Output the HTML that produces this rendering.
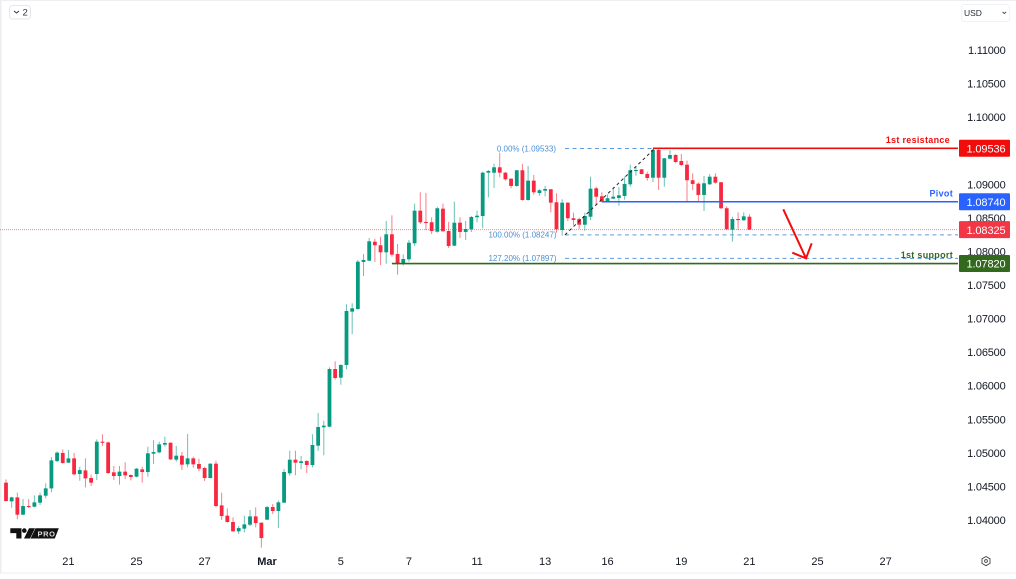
<!DOCTYPE html>
<html>
<head>
<meta charset="utf-8">
<title>EUR/USD chart</title>
<style>
html,body{margin:0;padding:0;background:#fff;width:1016px;height:579px;overflow:hidden}
svg{display:block;font-family:"Liberation Sans",Arial,sans-serif;filter:blur(0.3px)}
</style>
</head>
<body>
<svg id="chart" width="1016" height="579" viewBox="0 0 1016 579" xmlns="http://www.w3.org/2000/svg">
  <rect x="0" y="0" width="1016" height="579" fill="#ffffff"/>
  <rect x="0" y="0" width="1.5" height="573" fill="#eceef2"/>
  <rect x="0" y="0" width="1016" height="1" fill="#eceef2"/>
  <rect x="0" y="572.5" width="1016" height="1" fill="#eceef2"/>
  <g id="current-line"></g>
  <g id="candles"></g>
  <g id="annotations"></g>
  <g id="x-axis"></g>
  <g id="y-axis"></g>
  <g id="tags"></g>

  <g>
    <rect x="9.5" y="5.5" width="21" height="13.5" rx="3" fill="#fff" stroke="#e4e6ec"/>
    <path d="M14 11l2.5 2 2.5-2" fill="none" stroke="#333" stroke-width="1"/>
    <text x="22.5" y="15.5" font-size="9.5" fill="#333">2</text>
  </g>
  <g>
    <rect x="961.5" y="4.5" width="48" height="17" rx="3" fill="#fff" stroke="#f0f2f5"/>
    <text x="964" y="16" font-size="8.5" fill="#2a2e39">USD</text>
    <path d="M1002.5 12l1.8 1.5 1.8-1.5" fill="none" stroke="#444" stroke-width="0.9"/>
  </g>
  <g>
    <path d="M10.3 528.3h11.2v10.2h-5.2v-5.4h-6z" fill="#111"/>
    <circle cx="24.3" cy="530.6" r="2.3" fill="#111"/>
    <path d="M29 528.3h6l-5 10.2h-6z" fill="#111"/>
    <path d="M35.5 528.3h23.3l-4 10.2h-24.3z" fill="#111"/>
    <text x="37.5" y="536.6" font-size="7.5" font-weight="bold" fill="#ddd" letter-spacing="0.6">PRO</text>
  </g>
  <g>
    <path d="M986 556.5l4 2.3v4.6l-4 2.3-4-2.3v-4.6z" fill="none" stroke="#444" stroke-width="0.9"/>
    <circle cx="986" cy="561" r="1.4" fill="none" stroke="#444" stroke-width="0.9"/>
  </g>
</svg>
<script>
const opens = [
1.04556,1.04278,1.04337,1.04079,1.04208,1.04198,1.04258,1.04362,1.04471,1.04878,
1.04998,1.04854,1.04918,1.04685,1.04739,1.04625,1.04685,1.05166,1.05156,1.04710,
1.04655,1.04720,1.04670,1.04645,1.04754,1.04715,1.04988,1.05007,1.05122,1.05151,
1.04898,1.04958,1.04829,1.04918,1.04834,1.04774,1.04625,1.04839,1.04218,1.04064,
1.03970,1.03831,1.03871,1.03930,1.04054,1.03960,1.04005,1.04193,1.04134,1.04258,
1.04695,1.04898,1.04849,1.04879,1.04819,1.05107,1.05381,1.05390,1.06249,1.06120,
1.06309,1.07103,1.07143,1.07843,1.07862,1.08145,1.08092,1.07987,1.08255,1.07962,
1.07817,1.07883,1.08121,1.08607,1.08439,1.08434,1.08294,1.08637,1.08304,1.08086,
1.08428,1.08290,1.08330,1.08509,1.08528,1.09173,1.09173,1.09253,1.09173,1.09083,
1.08975,1.09209,1.08766,1.09054,1.08870,1.08905,1.08926,1.08732,1.08319,1.08726,
1.08494,1.08483,1.08398,1.08517,1.08940,1.08821,1.08747,1.08786,1.08796,1.08826,
1.09000,1.09198,1.09223,1.09153,1.09098,1.09511,1.09098,1.09381,1.09436,1.09347,
1.09292,1.09060,1.09009,1.08841,1.09000,1.09113,1.09030,1.08643,1.08324,1.08483,
1.08464,1.08517];
const highs = [
1.04605,1.04347,1.04407,1.04312,1.04312,1.04367,1.04407,1.04546,1.04938,1.05022,
1.05052,1.05042,1.04998,1.04794,1.04918,1.04675,1.05201,1.05276,1.05166,1.04804,
1.04804,1.04859,1.04680,1.04774,1.04794,1.05092,1.05191,1.05166,1.05241,1.05156,
1.05102,1.05012,1.05281,1.04943,1.04913,1.04794,1.04844,1.04883,1.04407,1.04173,
1.04039,1.03910,1.04064,1.04149,1.04188,1.03965,1.04208,1.04238,1.04288,1.04759,
1.05032,1.05032,1.04953,1.04889,1.05277,1.05594,1.05479,1.06274,1.06364,1.06319,
1.07213,1.07228,1.07873,1.07962,1.08200,1.08190,1.08220,1.08453,1.08538,1.08111,
1.07957,1.08170,1.08711,1.08881,1.08870,1.08509,1.08666,1.08711,1.08439,1.08741,
1.08509,1.08453,1.08528,1.08607,1.09188,1.09213,1.09307,1.09471,1.09183,1.09089,
1.09213,1.09302,1.09273,1.09139,1.08926,1.08975,1.08930,1.08866,1.08777,1.08732,
1.08577,1.08503,1.08577,1.09113,1.08964,1.08881,1.08851,1.08955,1.08955,1.09113,
1.09292,1.09273,1.09228,1.09188,1.09526,1.09521,1.09392,1.09511,1.09451,1.09451,
1.09352,1.09164,1.09030,1.09124,1.09153,1.09164,1.09034,1.08672,1.08517,1.08583,
1.08583,1.08553];
const lows = [
1.04273,1.04183,1.04010,1.04074,1.04178,1.04188,1.04223,1.04322,1.04412,1.04864,
1.04839,1.04849,1.04665,1.04585,1.04486,1.04506,1.04595,1.05102,1.04685,1.04595,
1.04526,1.04610,1.04590,1.04635,1.04556,1.04645,1.04834,1.04993,1.05092,1.04893,
1.04868,1.04744,1.04784,1.04779,1.04724,1.04581,1.04620,1.04188,1.04000,1.03960,
1.03826,1.03791,1.03816,1.03910,1.03890,1.03588,1.04000,1.04089,1.03880,1.04253,
1.04660,1.04665,1.04755,1.04700,1.04785,1.05028,1.04964,1.05381,1.06090,1.06015,
1.06245,1.06766,1.07132,1.07634,1.07858,1.07843,1.07798,1.07817,1.07922,1.07654,
1.07788,1.07847,1.08081,1.08409,1.08315,1.08260,1.08279,1.08294,1.08051,1.08081,
1.08200,1.08170,1.08290,1.08434,1.08345,1.08806,1.08945,1.09104,1.09054,1.08940,
1.08964,1.08756,1.08756,1.08845,1.08830,1.08821,1.08583,1.08279,1.08234,1.08453,
1.08394,1.08334,1.08309,1.08468,1.08696,1.08732,1.08736,1.08777,1.08681,1.08771,
1.08964,1.09128,1.09149,1.09054,1.09034,1.08915,1.08964,1.09377,1.09313,1.09277,
1.08726,1.08915,1.08751,1.08602,1.08990,1.09009,1.08632,1.08319,1.08145,1.08319,
1.08458,1.08319];
const closes = [
1.04283,1.04337,1.04079,1.04208,1.04193,1.04263,1.04367,1.04471,1.04888,1.05003,
1.04849,1.04918,1.04680,1.04744,1.04620,1.04556,1.05166,1.05151,1.04700,1.04655,
1.04720,1.04665,1.04640,1.04764,1.04715,1.04993,1.05012,1.05127,1.05147,1.04903,
1.04958,1.04824,1.04918,1.04829,1.04764,1.04625,1.04839,1.04208,1.04059,1.03970,
1.03831,1.03880,1.03935,1.04054,1.03955,1.03731,1.04193,1.04134,1.04263,1.04715,
1.04898,1.04854,1.04874,1.04819,1.05117,1.05385,1.05405,1.06249,1.06115,1.06309,
1.07113,1.07153,1.07847,1.07873,1.08151,1.08092,1.07987,1.08255,1.07952,1.07823,
1.07887,1.08130,1.08607,1.08434,1.08424,1.08304,1.08643,1.08300,1.08081,1.08428,
1.08290,1.08334,1.08513,1.08532,1.09173,1.09198,1.09253,1.09173,1.09074,1.08975,
1.09209,1.08766,1.09054,1.08881,1.08911,1.08930,1.08726,1.08330,1.08726,1.08494,
1.08468,1.08398,1.08528,1.08935,1.08815,1.08741,1.08792,1.08815,1.08836,1.09005,
1.09209,1.09213,1.09153,1.09094,1.09511,1.09098,1.09387,1.09436,1.09332,1.09287,
1.09060,1.09005,1.08841,1.09015,1.09113,1.09024,1.08643,1.08330,1.08483,1.08473,
1.08523,1.08325];
const priceTicks = [1.11,1.105,1.10,1.095,1.09,1.085,1.08,1.075,1.07,1.065,1.06,1.055,1.05,1.045,1.04];
const dayLabels = ["21","25","27","Mar","5","7","11","13","16","19","21","25","27"];
const dayBars = [11,23,35,46,59,71,83,95,106,119,131,143,155];
const resistancePrice = 1.09536;
const pivotPrice = 1.08740;
const supportPrice = 1.07820;
const lastPrice = closes[closes.length - 1];
const fibHigh = 1.09533;
const fibLow = 1.08247;
const fibExt = 1.07897;

const NS = 'http://www.w3.org/2000/svg';
const PLOT_RIGHT = 958;
function xScale(i){ return 6 + 5.675 * i; }
function yScale(p){ return 50 + (1.11 - p) * 6714.3; }
function make(tag, parent, attrs){
  const el = document.createElementNS(NS, tag);
  for (const k in attrs) el.setAttribute(k, attrs[k]);
  document.getElementById(parent).appendChild(el);
  return el;
}

/* current price dotted line */
const curLine = make('line', 'current-line', {x1:0, x2:PLOT_RIGHT, y1:yScale(lastPrice), y2:yScale(lastPrice), stroke:'#f7283f', 'stroke-width':1, 'stroke-dasharray':'1 1', opacity:0.55});



/* candles */
opens.forEach(function(o, i){
  const c = closes[i];
  const color = c >= o ? '#089981' : '#f7283f';
  const x = xScale(i);
  const wick = make('line', 'candles', {x1:x, x2:x, y1:yScale(highs[i]), y2:yScale(lows[i]), stroke:color, 'stroke-width':1, opacity:0.6});
  
  
  const top = yScale(Math.max(o, c));
  const h = Math.max(1.1, Math.abs(yScale(o) - yScale(c)));
  const body = make('rect', 'candles', {x:x - 1.9, y:top, width:3.8, height:h, fill:color});
  
  
});

/* fibonacci levels */
const fibBlue = '#5c9bdc';
const fibStart = xScale(98.5);
[[fibHigh, '0.00% (1.09533)', 556],[fibLow, '100.00% (1.08247)', 556.5],[fibExt, '127.20% (1.07897)', 556.5]].forEach(function(f){
  const line = make('line', 'annotations', {x1:fibStart, x2:PLOT_RIGHT, y1:yScale(f[0]), y2:yScale(f[0]), stroke:fibBlue, 'stroke-width':1, 'stroke-dasharray':'4 3.5'});
  
  
  const t = make('text', 'annotations', {x:f[2], y:yScale(f[0]) + 2.8, 'text-anchor':'end', 'font-size':8, fill:'#4a8fd6'});
  
  
  t.textContent = f[1];
});
const trend = make('line', 'annotations', {x1:fibStart, y1:yScale(fibLow), x2:xScale(114.3), y2:yScale(fibHigh), stroke:'#222', 'stroke-width':1, 'stroke-dasharray':'3 3'});



/* horizontal levels */
[[resistancePrice,'#f20d0d',114,1.6,'1st resistance',950,'resistance'],[pivotPrice,'#2962ff',105,1.5,'Pivot',953,'pivot'],[supportPrice,'#33691e',68,1.6,'1st support',953,'support']].forEach(function(l){
  const line = make('line', 'annotations', {x1:xScale(l[2]), x2:PLOT_RIGHT, y1:yScale(l[0]), y2:yScale(l[0]), stroke:l[1], 'stroke-width':l[3]});
  
  
  const t = make('text', 'annotations', {x:l[5], y:yScale(l[0]) - 5.4, 'text-anchor':'end', 'font-size':9, 'font-weight':'bold', fill:l[1], 'letter-spacing':0.3});
  
  
  t.textContent = l[4];
});

/* down arrow */
const arrow = make('path', 'annotations', {d:'M783.3 209.3L806 258.3M792.3 252.7L806 258.3L811.7 243.3', fill:'none', stroke:'#f40c0c', 'stroke-width':2});



/* axes */
dayLabels.forEach(function(label, i){
  const t = make('text', 'x-axis', {x:xScale(dayBars[i]), y:565, 'text-anchor':'middle', 'font-size':11, fill:'#131722', 'font-weight':label === 'Mar' ? 'bold' : 'normal'});
  
  
  t.textContent = label;
});
priceTicks.forEach(function(p){
  const t = make('text', 'y-axis', {x:1005.5, y:yScale(p) + 4, 'text-anchor':'end', 'font-size':11, fill:'#131722', 'letter-spacing':-0.2});
  
  
  t.textContent = p.toFixed(5);
});

/* price tags */
[[resistancePrice,'#f20d0d','1.09536'],[pivotPrice,'#2962ff','1.08740'],[lastPrice,'#f23645','1.08325'],[supportPrice,'#33691e','1.07820']].forEach(function(g){
  const y = yScale(g[0]);
  const r = make('rect', 'tags', {x:959, y:y - 8.5, width:51, height:17, rx:1, fill:g[1]});
  
  
  const t = make('text', 'tags', {x:1005.5, y:y + 4.2, 'text-anchor':'end', 'font-size':11, fill:'#ffffff', 'letter-spacing':-0.1});
  
  
  t.textContent = g[2];
});
</script>
</body>
</html>
